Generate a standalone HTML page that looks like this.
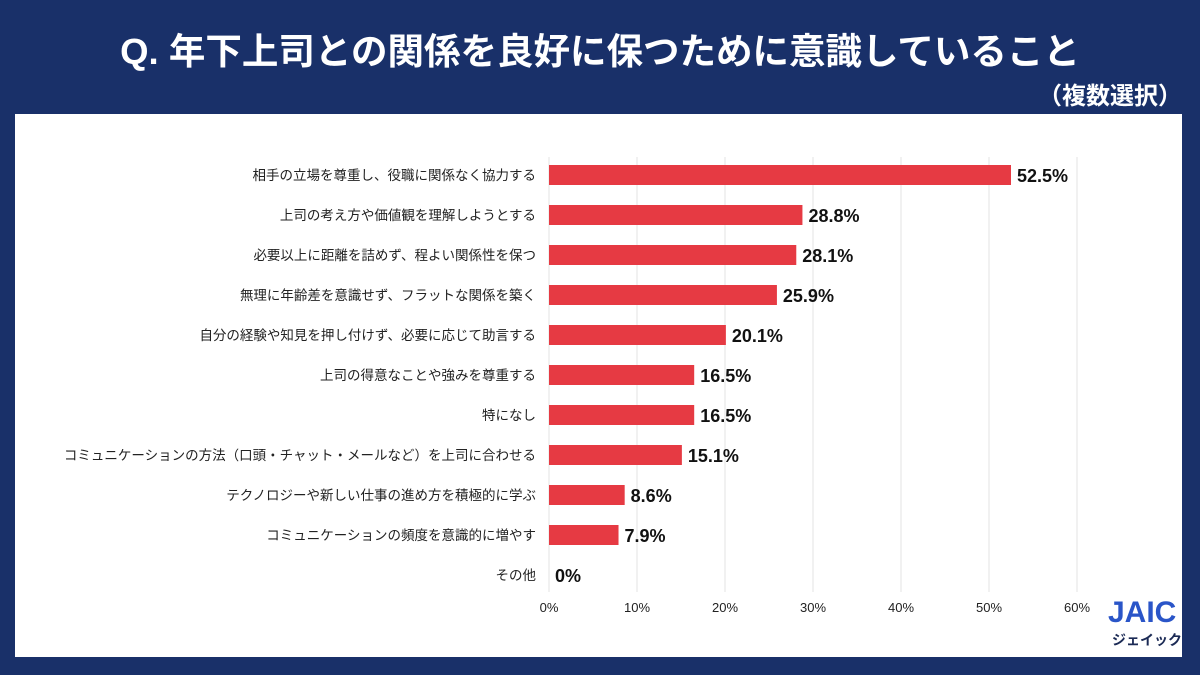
<!DOCTYPE html>
<html><head><meta charset="utf-8"><style>
html,body{margin:0;padding:0}
body{width:1200px;height:675px;background:#193069;position:relative;overflow:hidden;font-family:"Liberation Sans","Noto Sans CJK JP",sans-serif}
#title{position:absolute;left:0;width:1200px;top:30px;text-align:center;color:#fff;font-size:36.5px;font-weight:bold;line-height:44px}
#sub{position:absolute;right:18px;top:76px;color:#fff;font-size:24px;font-weight:bold}
#panel{position:absolute;left:15px;top:114px;width:1167px;height:543px;background:#fff}
svg{position:absolute;left:0;top:0}
</style></head><body>
<div id="title">Q. 年下上司との関係を良好に保つために意識していること</div>
<div id="sub">（複数選択）</div>
<div id="panel"></div>
<svg id="chart" width="1200" height="675"></svg>
<script>
const categories=["相手の立場を尊重し、役職に関係なく協力する","上司の考え方や価値観を理解しようとする","必要以上に距離を詰めず、程よい関係性を保つ","無理に年齢差を意識せず、フラットな関係を築く","自分の経験や知見を押し付けず、必要に応じて助言する","上司の得意なことや強みを尊重する","特になし","コミュニケーションの方法（口頭・チャット・メールなど）を上司に合わせる","テクノロジーや新しい仕事の進め方を積極的に学ぶ","コミュニケーションの頻度を意識的に増やす","その他"];
const values=[52.5,28.8,28.1,25.9,20.1,16.5,16.5,15.1,8.6,7.9,0];
const valueLabels=["52.5%","28.8%","28.1%","25.9%","20.1%","16.5%","16.5%","15.1%","8.6%","7.9%","0%"];
const ticks=[0,10,20,30,40,50,60];
const tickLabels=["0%","10%","20%","30%","40%","50%","60%"];
const svg=document.getElementById('chart');const NS="http://www.w3.org/2000/svg";
const x=v=>549+v*8.8;const y=i=>175+i*40;
function mk(t,a){const e=document.createElementNS(NS,t);for(const k in a)e.setAttribute(k,a[k]);svg.appendChild(e);return e;}
ticks.forEach((t,i)=>{
 const l=mk('line',{x1:x(t),x2:x(t),y1:157,y2:592,stroke:'#e3e3e3','stroke-width':1});
 
 
 const tx=mk('text',{x:x(t),y:612,'text-anchor':'middle','font-size':13,fill:'#222'});
 tx.textContent=tickLabels[i];
 
 
});
categories.forEach((c,i)=>{
 const lb=mk('text',{x:536,y:y(i)+5,'text-anchor':'end','font-size':13.5,fill:'#222'});
 lb.textContent=c;
 
 
 const r=mk('rect',{x:x(0),y:y(i)-10,width:x(values[i])-x(0),height:20,fill:'#e63a43'});
 
 
 const v=mk('text',{x:x(values[i])+6,y:y(i)+7,'font-size':18,fill:'#111','font-weight':'bold'});
 v.textContent=valueLabels[i];
 
 
});
const lg=mk('text',{x:1108,y:622,'font-size':30,fill:'#2a55c8','font-weight':'bold'});lg.textContent='JAIC';


const lg2=mk('text',{x:1112,y:645,'font-size':14,fill:'#1b2a55','font-weight':'bold'});lg2.textContent='ジェイック';


</script>
</body></html>
